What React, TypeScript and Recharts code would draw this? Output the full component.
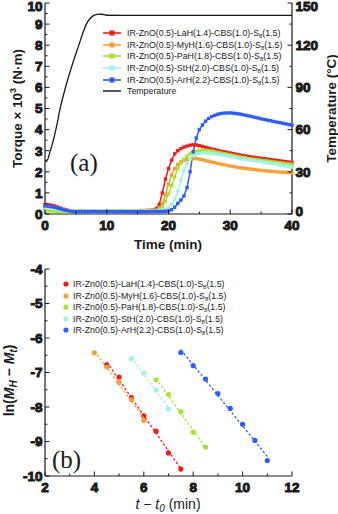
import React from "react";
import {
  Label,
  Legend,
  Line,
  LineChart,
  Scatter,
  ScatterChart,
  XAxis,
  YAxis
} from "recharts";

const SANS = "'Liberation Sans', Arial, Helvetica, sans-serif";
const SERIF = "'Liberation Serif', 'Times New Roman', serif";
const INK = "#1a1a1a";

// (a) cure curves, one reading every 0.5 min from 0 to 40 min
const cureTimes = Array.from({ length: 81 }, (_, i) => i * 0.5);

const lahTorque = [
  0.45, 0.44, 0.42, 0.38, 0.33, 0.28, 0.23, 0.19, 0.16,
  0.15, 0.15, 0.14, 0.15, 0.15, 0.14, 0.15, 0.15, 0.15, 0.14,
  0.15, 0.15, 0.15, 0.15, 0.14, 0.15, 0.15, 0.15, 0.15, 0.15,
  0.16, 0.15, 0.16, 0.16, 0.17, 0.17, 0.19,
  0.25, 0.45, 1.0, 1.65, 2.15, 2.55, 2.85, 3.0, 3.1, 3.17,
  3.22, 3.26, 3.28, 3.27, 3.24, 3.2, 3.16, 3.12, 3.08, 3.05,
  3.01, 2.98, 2.95, 2.92, 2.89, 2.86, 2.83, 2.8, 2.77, 2.75,
  2.72, 2.7, 2.68, 2.66, 2.64, 2.62, 2.6, 2.58, 2.56, 2.54,
  2.52, 2.5, 2.48, 2.46, 2.44
];
const myhTorque = [
  0.22, 0.21, 0.2, 0.19, 0.18, 0.17, 0.16, 0.16, 0.15,
  0.15, 0.15, 0.16, 0.16, 0.15, 0.15, 0.15, 0.16, 0.15, 0.15,
  0.15, 0.15, 0.16, 0.15, 0.15, 0.15, 0.15, 0.15, 0.16, 0.15,
  0.15, 0.16, 0.16, 0.16, 0.17, 0.17, 0.17,
  0.18, 0.3, 0.5, 0.9, 1.4, 1.85, 2.15, 2.35, 2.47, 2.54,
  2.59, 2.62, 2.63, 2.62, 2.6, 2.57, 2.53, 2.5, 2.46, 2.43,
  2.4, 2.36, 2.33, 2.3, 2.27, 2.25, 2.22, 2.2, 2.18, 2.16,
  2.14, 2.12, 2.1, 2.08, 2.07, 2.05, 2.04, 2.03, 2.02, 2.0,
  1.99, 1.98, 1.97, 1.96, 1.95
];
const pahTorque = [
  0.15, 0.15, 0.14, 0.14, 0.13, 0.13, 0.12, 0.12, 0.12,
  0.12, 0.12, 0.12, 0.13, 0.12, 0.12, 0.12, 0.12, 0.13, 0.12,
  0.12, 0.12, 0.12, 0.12, 0.13, 0.12, 0.12, 0.12, 0.12, 0.12,
  0.13, 0.12, 0.13, 0.13, 0.13, 0.14, 0.14,
  0.15, 0.2, 0.35, 0.6, 0.95, 1.35, 1.75, 2.15, 2.4, 2.6,
  2.75, 2.85, 2.93, 2.98, 3.01, 3.03, 3.02, 3.0, 2.98, 2.95,
  2.92, 2.89, 2.86, 2.83, 2.8, 2.77, 2.74, 2.71, 2.68, 2.66,
  2.63, 2.61, 2.59, 2.57, 2.55, 2.53, 2.51, 2.49, 2.47, 2.45,
  2.43, 2.41, 2.39, 2.37, 2.35
];
const sthTorque = [
  0.3, 0.29, 0.28, 0.26, 0.23, 0.2, 0.18, 0.16, 0.15,
  0.15, 0.14, 0.14, 0.15, 0.14, 0.14, 0.14, 0.15, 0.14, 0.14,
  0.14, 0.15, 0.14, 0.14, 0.14, 0.14, 0.15, 0.14, 0.14, 0.14,
  0.14, 0.14, 0.15, 0.14, 0.15, 0.15, 0.15,
  0.15, 0.16, 0.17, 0.2, 0.3, 0.45, 0.7, 1.1, 1.6, 2.05,
  2.4, 2.62, 2.76, 2.84, 2.88, 2.9, 2.9, 2.89, 2.87, 2.85,
  2.83, 2.81, 2.79, 2.76, 2.73, 2.7, 2.67, 2.64, 2.61, 2.59,
  2.56, 2.54, 2.52, 2.5, 2.48, 2.45, 2.43, 2.4, 2.38, 2.35,
  2.33, 2.3, 2.28, 2.25, 2.22
];
const arhTorque = [
  0.38, 0.37, 0.35, 0.32, 0.28, 0.24, 0.2, 0.17, 0.14,
  0.12, 0.11, 0.11, 0.12, 0.11, 0.11, 0.11, 0.12, 0.11, 0.11,
  0.11, 0.12, 0.11, 0.11, 0.11, 0.11, 0.12, 0.11, 0.11, 0.11,
  0.11, 0.11, 0.12, 0.11, 0.11, 0.12, 0.12,
  0.12, 0.12, 0.12, 0.13, 0.14, 0.2, 0.32, 0.5, 0.66, 0.86,
  1.25, 2.0, 2.95, 3.6, 4.0, 4.22, 4.4, 4.53, 4.62, 4.68,
  4.73, 4.76, 4.78, 4.79, 4.79, 4.78, 4.76, 4.74, 4.71, 4.68,
  4.65, 4.62, 4.58, 4.55, 4.51, 4.48, 4.45, 4.42, 4.39, 4.36,
  4.33, 4.3, 4.27, 4.24, 4.21
];

const tempTimes = [0, 0.4, 0.8, 1.2, 1.6, 2, 2.4, 3.2, 4.3, 5.4, 6.2, 6.7, 7.3, 8.1, 8.7, 9.2, 10, 15, 20, 25, 30, 35, 40];
const tempValues = [37.8, 38.6, 44, 50, 57, 65, 74, 88, 104.5, 119, 129.5, 135, 139, 141.5, 142.1, 142, 141.3, 141.2, 141.2, 141.2, 141.2, 141.2, 141.2];

// (b) first-order kinetic plot
const lahX = [4.5, 5, 5.5, 6, 6.5, 7, 7.5];
const lahY = [-6.78, -7.13, -7.73, -8.26, -8.7, -9.33, -9.8];
const myhX = [4, 4.5, 5, 5.5, 6];
const myhY = [-6.43, -6.84, -7.29, -7.79, -8.39];
const pahX = [6.5, 7, 7.5, 8, 8.5];
const pahY = [-7.21, -7.64, -8.14, -8.73, -9.16];
const sthX = [5.5, 6, 6.5, 7];
const sthY = [-6.6, -7.02, -7.51, -8.06];
const arhX = [7.5, 8, 8.5, 9, 9.5, 10, 10.5, 11];
const arhY = [-6.42, -6.8, -7.19, -7.61, -8.04, -8.5, -8.97, -9.55];

const timeTicks = [0, 5, 10, 15, 20, 25, 30, 35, 40];
const torqueTicks = [0, 0.5, 1, 1.5, 2, 2.5, 3, 3.5, 4, 4.5, 5, 5.5, 6, 6.5, 7, 7.5, 8, 8.5, 9, 9.5, 10];
const tempTicks = [0, 15, 30, 45, 60, 75, 90, 105, 120, 135, 150];
const kinXTicks = [2, 3, 4, 5, 6, 7, 8, 9, 10, 11, 12];
const kinYTicks = [-10, -9.5, -9, -8.5, -8, -7.5, -7, -6.5, -6, -5.5, -5, -4.5, -4];

const series = [
  { key: "lah", acid: "LaH(1.4)", color: "#f01c1c", torque: lahTorque, kx: lahX, ky: lahY },
  { key: "myh", acid: "MyH(1.6)", color: "#f0a23a", torque: myhTorque, kx: myhX, ky: myhY },
  { key: "pah", acid: "PaH(1.8)", color: "#a8e332", torque: pahTorque, kx: pahX, ky: pahY },
  { key: "sth", acid: "StH(2.0)", color: "#a4f2e6", torque: sthTorque, kx: sthX, ky: sthY },
  { key: "arh", acid: "ArH(2.2)", color: "#2f5cf2", torque: arhTorque, kx: arhX, ky: arhY }
];

const cureRows = cureTimes.map((t, i) => {
  const row: Record<string, number> = { t };
  series.forEach((s) => (row[s.key] = s.torque[i]));
  return row;
});
const tempRows = tempTimes.map((t, i) => ({ t, temp: tempValues[i] }));

type Side = "left" | "right" | "bottom" | "top";

// inward ticks, long on majors, short on minors
const makeTick = (side: Side, isMajor: (v: number) => boolean, showLabel = true) => (p: any) => {
  const v = p.payload.value;
  const major = isMajor(v);
  const len = major ? 4.5 : 2.5;
  const { x, y } = p;
  const txt = { fontFamily: SANS, fontSize: 13.5, fontWeight: 700, fill: INK };
  // keep the top label inside the picture
  const ly = Math.max(y, 6.5);
  let tick;
  let label = null;
  if (side === "left") {
    tick = <line x1={x} x2={x + len} y1={y} y2={y} />;
    if (showLabel && major)
      label = <text x={x - 2.5} y={ly} dy="0.36em" textAnchor="end" style={txt}>{String(v)}</text>;
  } else if (side === "right") {
    tick = <line x1={x} x2={x - len} y1={y} y2={y} />;
    // lift the bottom label clear of the time axis labels
    if (showLabel && major)
      label = <text x={x + 3.5} y={Math.min(ly, 211)} dy="0.36em" textAnchor="start" style={txt}>{String(v)}</text>;
  } else if (side === "bottom") {
    tick = <line x1={x} x2={x} y1={y} y2={y - len} />;
    if (showLabel && major)
      label = <text x={x} y={y + 15.5} textAnchor="middle" style={txt}>{String(v)}</text>;
  } else {
    tick = <line x1={x} x2={x} y1={y} y2={y + len} />;
  }
  return (
    <g stroke={INK} strokeWidth={1}>
      {tick}
      {label}
    </g>
  );
};

const axisLine = { stroke: INK, strokeWidth: 1.2 };
const even = (v: number) => Math.abs(v % 2) < 1e-9;
const whole = (v: number) => Math.abs(v % 1) < 1e-9;

const SquareDot = (color: string) => (p: any) => (
  <rect key={p.index} x={p.cx - 1.7} y={p.cy - 1.7} width={3.4} height={3.4} fill={color} />
);

const TopLegend = () => (
  <div style={{ fontFamily: SANS, fontSize: 8.8, color: INK }}>
    {series.map((s) => (
      <div key={s.key} style={{ display: "flex", alignItems: "center", height: 11.6, whiteSpace: "nowrap" }}>
        <svg width={24} height={8} style={{ flex: "none" }}>
          <line x1={0} x2={18} y1={4} y2={4} stroke={s.color} strokeWidth={1.6} />
          <rect x={6.5} y={1.5} width={5} height={5} fill={s.color} />
        </svg>
        <span>
          IR-ZnO(0.5)-{s.acid}-CBS(1.0)-S
          <span style={{ fontSize: 6, position: "relative", top: 2 }}>8</span>(1.5)
        </span>
      </div>
    ))}
    <div style={{ display: "flex", alignItems: "center", height: 11.6 }}>
      <svg width={24} height={8} style={{ flex: "none" }}>
        <line x1={0} x2={18} y1={4} y2={4} stroke={INK} strokeWidth={1.5} />
      </svg>
      <span>Temperature</span>
    </div>
  </div>
);

const BottomLegend = () => (
  <div style={{ fontFamily: SANS, fontSize: 8.8, color: INK }}>
    {series.map((s) => (
      <div key={s.key} style={{ display: "flex", alignItems: "center", height: 11.5, whiteSpace: "nowrap" }}>
        <svg width={12} height={8} style={{ flex: "none" }}>
          <circle cx={5} cy={4} r={2.6} fill={s.color} />
        </svg>
        <span>
          IR-Zn0(0.5)-{s.acid}-CBS(1.0)-S
          <span style={{ fontSize: 6, position: "relative", top: 2 }}>8</span>(1.5)
        </span>
      </div>
    ))}
  </div>
);

const titleStyle = { fontFamily: SANS, fontSize: 13.5, fontWeight: 700, fill: INK };

export default function App() {
  return (
    <div style={{ position: "absolute", left: 0, top: 0, width: 338, height: 514, background: "#fff" }}>
      <LineChart
        width={338}
        height={260}
        data={cureRows}
        margin={{ top: 3, right: 0, bottom: 0, left: 0 }}
      >
        <XAxis
          dataKey="t"
          type="number"
          domain={[0, 40]}
          ticks={timeTicks}
          height={46}
          tickSize={0}
          tickMargin={0}
          tickLine={false}
          axisLine={axisLine}
          tick={makeTick("bottom", (v) => v % 10 === 0)}
          interval={0}
        >
          <Label
            content={() => (
              <text x={168} y={249} textAnchor="middle" style={titleStyle}>
                Time (min)
              </text>
            )}
          />
        </XAxis>
        <XAxis
          xAxisId="top"
          orientation="top"
          dataKey="t"
          type="number"
          domain={[0, 40]}
          ticks={timeTicks}
          height={0}
          tickSize={0}
          tickMargin={0}
          tickLine={false}
          axisLine={axisLine}
          tick={makeTick("top", (v) => v % 10 === 0, false)}
          interval={0}
        />
        <YAxis
          yAxisId="torque"
          domain={[0, 10]}
          ticks={torqueTicks}
          width={45}
          tickSize={0}
          tickMargin={0}
          tickLine={false}
          axisLine={axisLine}
          tick={makeTick("left", whole)}
          interval={0}
        >
          <Label
            content={(props: any) => {
              const vb = props.viewBox;
              const cy = vb.y + vb.height / 2;
              return (
                <text transform={`translate(22, ${cy}) rotate(-90)`} textAnchor="middle" style={titleStyle}>
                  Torque × 10
                  <tspan dy={-6} fontSize={9}>3</tspan>
                  <tspan dy={6}> (N·m)</tspan>
                </text>
              );
            }}
          />
        </YAxis>
        <YAxis
          yAxisId="temp"
          orientation="right"
          domain={[0, 150]}
          ticks={tempTicks}
          width={46}
          tickSize={0}
          tickMargin={0}
          tickLine={false}
          axisLine={axisLine}
          tick={makeTick("right", (v) => v % 30 === 0)}
          interval={0}
        >
          <Label
            content={(props: any) => {
              const vb = props.viewBox;
              const cy = vb.y + vb.height / 2;
              return (
                <text transform={`translate(336, ${cy}) rotate(-90)`} textAnchor="middle" style={titleStyle}>
                  Temperature (°C)
                </text>
              );
            }}
          />
        </YAxis>
        <Legend
          layout="horizontal"
          verticalAlign="middle"
          align="center"
          wrapperStyle={{ top: 27.5, left: 103, width: "auto" }}
          content={() => <TopLegend />}
        />
        <Line
          yAxisId="temp"
          data={tempRows}
          dataKey="temp"
          type="monotone"
          stroke={INK}
          strokeWidth={1.3}
          dot={false}
          isAnimationActive={false}
        />
        {series.map((s) => (
          <Line
            key={s.key}
            yAxisId="torque"
            dataKey={s.key}
            type="linear"
            stroke={s.color}
            strokeWidth={1.5}
            dot={SquareDot(s.color)}
            isAnimationActive={false}
          />
        ))}
      </LineChart>

      <ScatterChart
        width={338}
        height={254}
        margin={{ top: 9, right: 46, bottom: 0, left: 0 }}
        style={{ position: "absolute", left: 0, top: 260 }}
      >
        <XAxis
          dataKey="x"
          type="number"
          domain={[2, 12]}
          ticks={kinXTicks}
          height={38}
          tickSize={0}
          tickMargin={0}
          tickLine={false}
          axisLine={axisLine}
          tick={makeTick("bottom", even)}
          interval={0}
        >
          <Label
            content={() => (
              <text x={168} y={249} textAnchor="middle" style={{ fontFamily: SANS, fontSize: 14, fill: INK }}>
                <tspan fontStyle="italic">t</tspan> − <tspan fontStyle="italic">t</tspan>
                <tspan fontStyle="italic" fontSize={10} dy={3}>0</tspan>
                <tspan dy={-3}> (min)</tspan>
              </text>
            )}
          />
        </XAxis>
        <XAxis
          xAxisId="top"
          orientation="top"
          dataKey="x"
          type="number"
          domain={[2, 12]}
          ticks={kinXTicks}
          height={0}
          tickSize={0}
          tickMargin={0}
          tickLine={false}
          axisLine={axisLine}
          tick={makeTick("top", even, false)}
          interval={0}
        />
        <YAxis
          dataKey="y"
          type="number"
          domain={[-10, -4]}
          ticks={kinYTicks}
          width={45}
          tickSize={0}
          tickMargin={0}
          tickLine={false}
          axisLine={axisLine}
          tick={makeTick("left", whole)}
          interval={0}
        >
          <Label
            content={(props: any) => {
              const vb = props.viewBox;
              const cy = vb.y + vb.height / 2 + 8;
              return (
                <text transform={`translate(14, ${cy}) rotate(-90)`} textAnchor="middle" style={{ ...titleStyle, fontSize: 14 }}>
                  ln(<tspan fontStyle="italic">M</tspan>
                  <tspan fontStyle="italic" fontSize={10} dy={3}>H</tspan>
                  <tspan dy={-3}> − </tspan>
                  <tspan fontStyle="italic">M</tspan>
                  <tspan fontStyle="italic" fontSize={10} dy={3}>t</tspan>
                  <tspan dy={-3}>)</tspan>
                </text>
              );
            }}
          />
        </YAxis>
        <YAxis
          yAxisId="right"
          orientation="right"
          type="number"
          domain={[-10, -4]}
          ticks={kinYTicks}
          width={0}
          tickSize={0}
          tickMargin={0}
          tickLine={false}
          axisLine={axisLine}
          tick={makeTick("right", whole, false)}
          interval={0}
        />
        <Legend
          layout="horizontal"
          verticalAlign="middle"
          align="center"
          wrapperStyle={{ top: 18.5, left: 61, width: "auto" }}
          content={() => <BottomLegend />}
        />
        {series.map((s) => (
          <Scatter
            key={s.key}
            data={s.kx.map((x, i) => ({ x, y: s.ky[i] }))}
            fill={s.color}
            line={{ stroke: s.color, strokeWidth: 1.3, strokeDasharray: "2.5 2" }}
            lineType="fitting"
            shape={(p: any) => <circle cx={p.cx} cy={p.cy} r={2.6} fill={s.color} />}
            isAnimationActive={false}
          />
        ))}
      </ScatterChart>

      <div style={{ position: "absolute", left: 70, top: 150, fontFamily: SERIF, fontSize: 25, color: INK, lineHeight: 1 }}>
        (a)
      </div>
      <div style={{ position: "absolute", left: 52, top: 447, fontFamily: SERIF, fontSize: 25, color: INK, lineHeight: 1 }}>
        (b)
      </div>
    </div>
  );
}
